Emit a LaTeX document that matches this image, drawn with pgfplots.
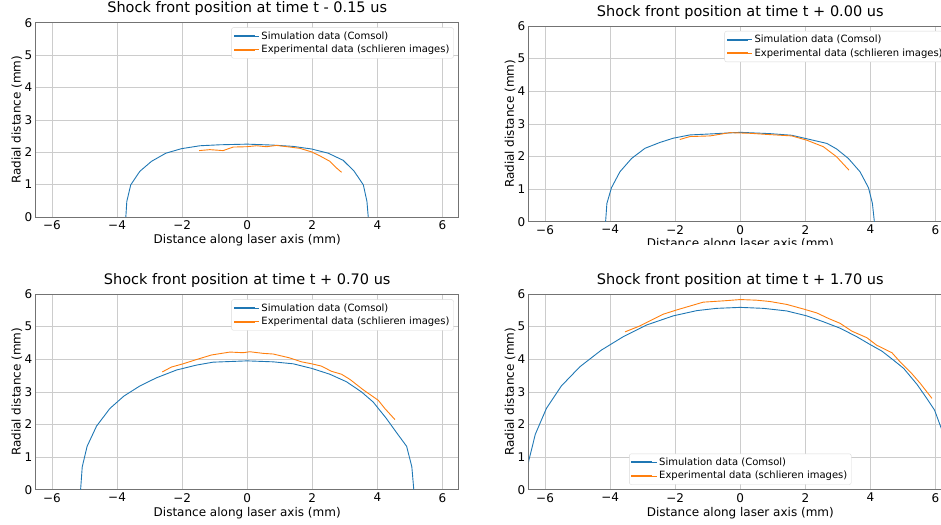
\documentclass[border=0pt]{standalone}
\usepackage{fontspec}
\setmainfont{DejaVu Sans}
\usepackage{pgfplots}
\pgfplotsset{compat=1.18}
\definecolor{cblue}{HTML}{1F77B4}
\definecolor{corange}{HTML}{FF7F0E}
\pgfplotsset{
  simline/.style={color=cblue, line width=0.9pt, legend image code/.code={\color{cblue}\fill[sharp corners] (0pt,-0.45pt) rectangle (20pt,0.45pt); \path (0pt,0pt) -- (25pt,0pt);}},
  expline/.style={color=corange, line width=0.9pt, legend image code/.code={\color{corange}\fill[sharp corners] (0pt,-0.45pt) rectangle (20pt,0.45pt); \path (0pt,0pt) -- (25pt,0pt);}},
  shockaxis/.style={
    scale only axis,
    width=423pt, height=195pt,
    xmin=-6.5, xmax=6.5, ymin=0, ymax=6,
    xtick={-6,-4,-2,0,2,4,6},
    xticklabels={−6,−4,−2,0,2,4,6},
    ytick={0,1,2,3,4,5,6},
    yticklabels={0,1,2,3,4,5,6},
    major tick length=0pt,
    grid=major,
    major grid style={draw=black!20, line width=0.6pt},
    axis line style={draw=black!55, line width=0.7pt},
    tick label style={font=\fontsize{12}{14}\selectfont},
    label style={font=\fontsize{12}{14}\selectfont},
    title style={font=\fontsize{14.5}{16}\selectfont, at={(axis description cs:0.5,1)}, anchor=base, yshift=3.7pt},
    xlabel={Distance along laser axis (mm)},
    ylabel={Radial distance (mm)},
    xlabel style={at={(axis description cs:0.5,0)}, anchor=base, yshift=-26.3pt},
    ylabel style={at={(axis description cs:0,0.5)}, anchor=base, yshift=15pt},
    legend cell align=left,
    legend style={font=\fontsize{10}{12}\selectfont, draw=black!15, fill=white, rounded corners=2pt, inner xsep=2pt, inner ysep=2pt, row sep=0.5pt},
  }
}
\begin{document}
\begin{tikzpicture}
\useasboundingbox (0,0) rectangle (941pt,524pt);
\clip (0,0) rectangle (941pt,524pt);
% Top left
\begin{axis}[shockaxis, at={(35.7pt,307pt)}, anchor=south west, height=194.3pt,
  title={Shock front position at time t - 0.15 us},
  legend style={at={(1,1)}, anchor=north east, xshift=-5pt, yshift=-4.7pt}]
\addplot[simline] coordinates {(-3.73,0) (-3.70,0.48) (-3.58,0.99) (-3.30,1.41) (-2.94,1.72) (-2.50,1.97) (-2.02,2.11) (-1.45,2.20) (-0.84,2.23) (0,2.25) (0.80,2.22) (1.41,2.18) (1.98,2.10) (2.49,1.97) (2.95,1.75) (3.29,1.41) (3.57,0.99) (3.68,0.48) (3.72,0)};
\addlegendentry{Simulation data (Comsol)}
\addplot[expline] coordinates {(-1.48,2.05) (-1.15,2.08) (-0.74,2.05) (-0.43,2.16) (-0.02,2.17) (0.29,2.20) (0.59,2.17) (0.90,2.21) (1.31,2.16) (1.62,2.12) (1.98,2.01) (2.23,1.89) (2.54,1.72) (2.75,1.51) (2.90,1.38)};
\addlegendentry{Experimental data (schlieren images)}
\end{axis}
% Top right
\begin{axis}[shockaxis, at={(528.8pt,302.3pt)}, anchor=south west, height=195.7pt,
  title={Shock front position at time t + 0.00 us},
  legend style={at={(1,1)}, anchor=north east, xshift=-5pt, yshift=-5pt}]
\addplot[simline] coordinates {(-4.14,0) (-4.10,0.56) (-3.96,1.04) (-3.70,1.53) (-3.34,1.94) (-2.93,2.25) (-2.47,2.43) (-2.06,2.56) (-1.55,2.66) (-0.93,2.69) (0,2.74) (0.91,2.70) (1.58,2.65) (2.14,2.52) (2.66,2.40) (2.96,2.23) (3.32,1.94) (3.68,1.53) (3.94,1.04) (4.06,0.56) (4.12,0)};
\addlegendentry{Simulation data (Comsol)}
\addplot[expline] coordinates {(-1.86,2.52) (-1.55,2.61) (-0.93,2.63) (-0.32,2.73) (0.30,2.71) (0.91,2.67) (1.58,2.63) (2.04,2.50) (2.55,2.30) (2.96,1.99) (3.34,1.58)};
\addlegendentry{Experimental data (schlieren images)}
\end{axis}
% Bottom left
\begin{axis}[shockaxis, at={(35.7pt,34.3pt)}, anchor=south west, height=195.7pt,
  title={Shock front position at time t + 0.70 us},
  legend style={at={(1,1)}, anchor=north east, xshift=-5pt, yshift=-5.4pt}]
\addplot[simline] coordinates {(-5.12,0) (-5.07,0.70) (-4.92,1.33) (-4.63,1.95) (-4.22,2.49) (-3.79,2.87) (-3.30,3.18) (-2.79,3.43) (-2.17,3.67) (-1.56,3.82) (-1.05,3.91) (0,3.95) (0.80,3.92) (1.41,3.86) (1.98,3.72) (2.54,3.54) (3.05,3.31) (3.51,3.00) (3.87,2.69) (4.28,2.18) (4.59,1.75) (4.90,1.33) (5.06,0.70) (5.12,0)};
\addlegendentry{Simulation data (Comsol)}
\addplot[expline] coordinates {(-2.61,3.61) (-2.33,3.76) (-1.97,3.86) (-1.56,3.99) (-1.10,4.13) (-0.53,4.22) (-0.12,4.20) (0.08,4.23) (0.49,4.18) (0.80,4.16) (1.31,4.04) (1.67,3.92) (1.98,3.86) (2.28,3.79) (2.59,3.63) (2.90,3.54) (3.16,3.38) (3.57,3.06) (4.03,2.74) (4.23,2.49) (4.54,2.15)};
\addlegendentry{Experimental data (schlieren images)}
\end{axis}
% Bottom right
\begin{axis}[shockaxis, at={(528.8pt,34.3pt)}, anchor=south west, height=195.7pt,
  title={Shock front position at time t + 1.70 us},
  legend style={at={(0.5,0)}, anchor=south, yshift=5pt}]
\addplot[simline] coordinates {(-6.62,0) (-6.51,0.85) (-6.30,1.70) (-5.96,2.49) (-5.50,3.18) (-4.93,3.77) (-4.27,4.28) (-3.60,4.69) (-2.88,5.05) (-2.06,5.33) (-1.34,5.49) (-0.73,5.56) (0,5.59) (0.71,5.56) (1.43,5.48) (2.04,5.33) (2.55,5.15) (3.07,4.95) (3.58,4.69) (3.99,4.45) (4.35,4.25) (4.71,3.97) (5.02,3.72) (5.43,3.23) (5.73,2.80) (5.97,2.44) (6.17,1.90) (6.32,1.55) (6.50,0.85) (6.60,0)};
\addlegendentry{Simulation data (Comsol)}
\addplot[expline] coordinates {(-3.54,4.84) (-3.09,5.02) (-2.37,5.38) (-1.96,5.51) (-1.14,5.75) (-0.52,5.79) (0,5.83) (0.50,5.81) (0.91,5.77) (1.43,5.68) (1.94,5.54) (2.35,5.42) (2.71,5.25) (3.07,5.10) (3.43,4.86) (3.89,4.66) (4.19,4.43) (4.66,4.20) (4.91,3.92) (5.27,3.56) (5.53,3.26) (5.89,2.80)};
\addlegendentry{Experimental data (schlieren images)}
\end{axis}
\fill[white] (470pt,262pt) rectangle (941pt,279pt);
\end{tikzpicture}
\end{document}
